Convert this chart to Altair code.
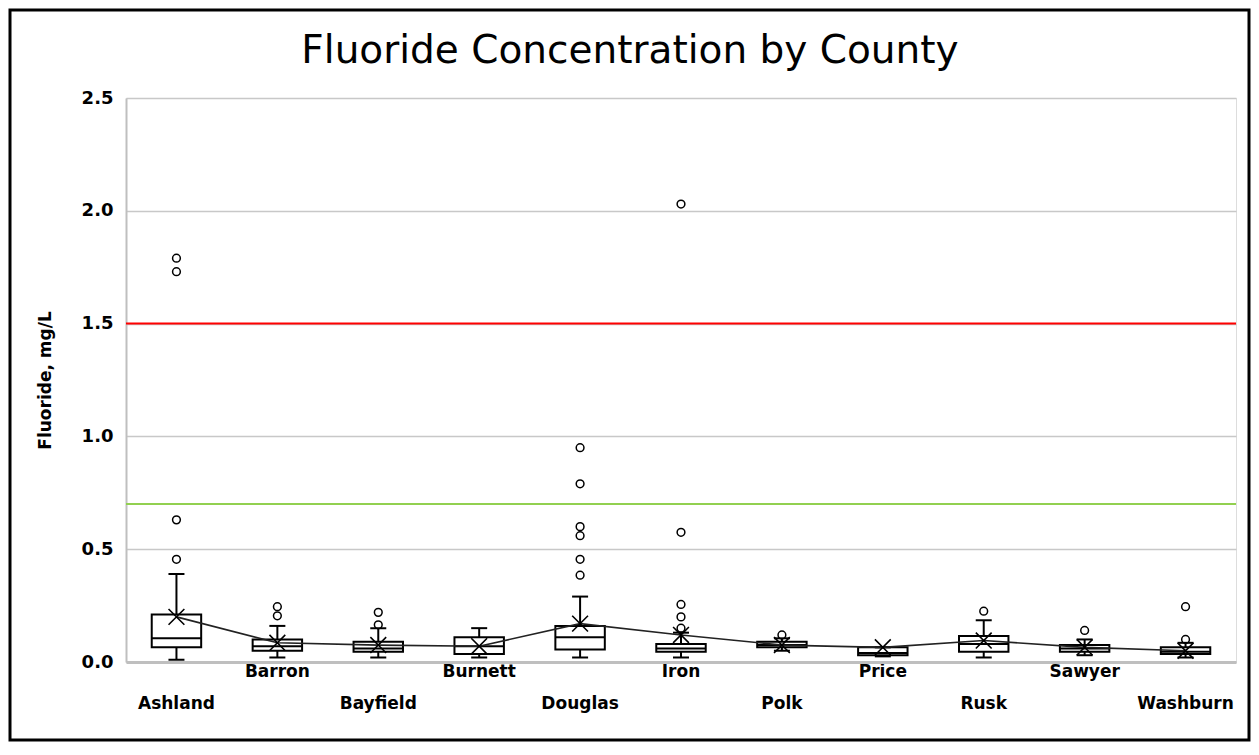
import json
import altair as alt
import pandas as pd

counties = ["Ashland", "Barron", "Bayfield", "Burnett", "Douglas", "Iron",
            "Polk", "Price", "Rusk", "Sawyer", "Washburn"]
whisker_low = [0.01, 0.02, 0.02, 0.02, 0.02, 0.02, 0.05, 0.025, 0.02, 0.03, 0.02]
q1 = [0.065, 0.05, 0.045, 0.035, 0.055, 0.045, 0.065, 0.03, 0.045, 0.045, 0.035]
median = [0.105, 0.07, 0.06, 0.07, 0.11, 0.06, 0.075, 0.04, 0.08, 0.06, 0.045]
q3 = [0.21, 0.10, 0.09, 0.11, 0.16, 0.08, 0.09, 0.065, 0.115, 0.075, 0.065]
whisker_high = [0.39, 0.16, 0.15, 0.15, 0.29, 0.13, 0.105, 0.065, 0.185, 0.10, 0.085]
means = [0.20, 0.085, 0.075, 0.07, 0.17, 0.12, 0.075, 0.065, 0.095, 0.065, 0.05]

outlier_county = (["Ashland"] * 4 + ["Barron"] * 2 + ["Bayfield"] * 2 +
                  ["Douglas"] * 6 + ["Iron"] * 5 + ["Polk"] + ["Rusk"] +
                  ["Sawyer"] + ["Washburn"] * 2)
outlier_value = [1.79, 1.73, 0.63, 0.455,
                 0.245, 0.205,
                 0.22, 0.165,
                 0.95, 0.79, 0.60, 0.56, 0.455, 0.385,
                 2.03, 0.575, 0.255, 0.20, 0.15,
                 0.12,
                 0.225,
                 0.14,
                 0.245, 0.10]

y_ticks = [0.0, 0.5, 1.0, 1.5, 2.0, 2.5]
limit_high = 1.5
limit_optimal = 0.7

stats = pd.DataFrame({"county": counties, "low": whisker_low, "q1": q1,
                      "median": median, "q3": q3, "high": whisker_high,
                      "mean": means})
outl = pd.DataFrame({"county": outlier_county, "value": outlier_value})
refs = pd.DataFrame({"red": [limit_high], "green": [limit_optimal]})

W, H = 1110, 564
FONT = "DejaVu Sans"

label_expr = ("indexof(" + json.dumps(counties) +
              ", datum.value) % 2 == 0 ? ['', datum.value] : datum.value")

x_enc = alt.X("county:N", sort=counties,
              scale=alt.Scale(paddingInner=0, paddingOuter=0),
              axis=alt.Axis(title=None, labelAngle=0, ticks=False, grid=False,
                            domainColor="#bfbfbf", domainWidth=3,
                            labelFont=FONT, labelFontWeight="bold",
                            labelFontSize=17, labelColor="#000000",
                            labelPadding=1, labelLineHeight=32,
                            labelBaseline="top", labelExpr=label_expr))

y_scale = alt.Scale(domain=[0, 2.5], nice=False)
y_axis = alt.Axis(title="Fluoride, mg/L", values=y_ticks, format=".1f",
                  ticks=False, domainColor="#bfbfbf", domainWidth=2,
                  gridColor="#c8c8c8", gridWidth=1.5,
                  labelFont=FONT, labelFontWeight="bold", labelFontSize=18,
                  labelColor="#000000", labelPadding=13,
                  titleFont=FONT, titleFontWeight="bold", titleFontSize=17,
                  titleColor="#000000", titlePadding=27)

base = alt.Chart(stats)

whisk = base.mark_rule(color="black", strokeWidth=2).encode(
    x=x_enc, y=alt.Y("low:Q", scale=y_scale, axis=y_axis), y2="high:Q")
box = base.mark_bar(width=alt.RelativeBandSize(0.49), fill="white",
                    stroke="black", strokeWidth=2).encode(
    x=alt.X("county:N", sort=counties), y="q1:Q", y2="q3:Q")
med = base.mark_tick(color="black", thickness=2, size=49, opacity=1).encode(
    x=alt.X("county:N", sort=counties), y="median:Q")
cap_hi = base.mark_tick(color="black", thickness=2, size=16, opacity=1).encode(
    x=alt.X("county:N", sort=counties), y="high:Q")
cap_lo = base.mark_tick(color="black", thickness=2, size=16, opacity=1).encode(
    x=alt.X("county:N", sort=counties), y="low:Q")
mean_line = base.mark_line(color="#222222", strokeWidth=1.6).encode(
    x=alt.X("county:N", sort=counties), y="mean:Q")
mean_x = base.mark_point(shape="M-1,-1L1,1M-1,1L1,-1", size=250,
                         filled=False, color="black", strokeWidth=1.6,
                         opacity=1).encode(
    x=alt.X("county:N", sort=counties), y="mean:Q")
outs = alt.Chart(outl).mark_point(shape="circle", size=60, filled=False,
                                  color="black", strokeWidth=1.5,
                                  opacity=1).encode(
    x=alt.X("county:N", sort=counties), y="value:Q")

red = alt.Chart(refs).mark_rule(color="#ff0000", strokeWidth=2).encode(y="red:Q")
green = alt.Chart(refs).mark_rule(color="#92d050", strokeWidth=2).encode(y="green:Q")

border = alt.Chart(refs).mark_rect(filled=False, stroke="black",
                                   strokeWidth=3).encode(
    x=alt.value(-116), x2=alt.value(W + 13),
    y=alt.value(-88), y2=alt.value(H + 78))

chart = alt.layer(
    red, green, whisk, box, med, cap_hi, cap_lo, mean_line, mean_x, outs, border
).properties(
    width=W, height=H,
    title=alt.TitleParams("Fluoride Concentration by County", font=FONT,
                          fontSize=39, fontWeight="normal", color="#000000",
                          anchor="middle", dx=-51, offset=-62),
    autosize=alt.AutoSizeParams(type="none"),
    padding={"left": 118, "top": 90, "right": 15, "bottom": 80},
).configure_view(stroke=None).configure(background="white")

chart.save("out.html", embed_options={"renderer": "svg", "actions": False})
